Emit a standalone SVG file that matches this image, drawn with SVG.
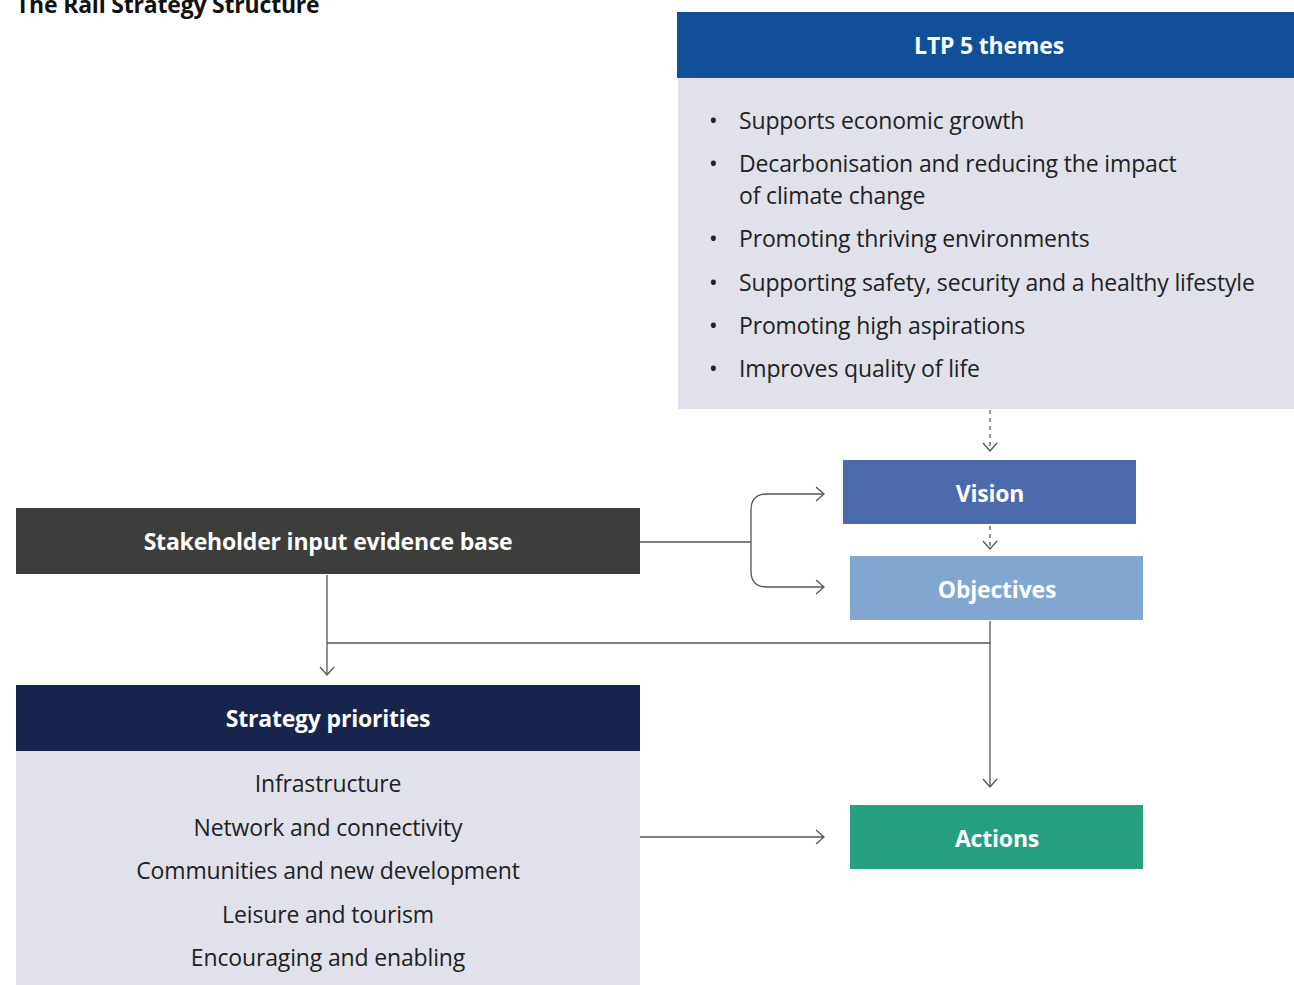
<svg xmlns="http://www.w3.org/2000/svg" width="1294" height="985" viewBox="0 0 1294 985">
<defs>
<marker id="chev" markerWidth="16" markerHeight="16" refX="12" refY="8" orient="auto" markerUnits="userSpaceOnUse">
<path d="M4,1 L12,8 L4,15" fill="none" stroke="#555" stroke-width="1.3"/>
</marker>
<style>
.hd{font-family:"Open Sans","Liberation Sans",sans-serif;font-weight:700;font-size:23px;letter-spacing:-0.2px;fill:#fff;text-anchor:middle;dominant-baseline:central}
.bd{font-family:"Open Sans","Liberation Sans",sans-serif;font-size:23px;letter-spacing:-0.15px;fill:#222}
.ctr{text-anchor:middle;dominant-baseline:central}
.ln{fill:none;stroke:#555;stroke-width:1.3}
.dash{stroke-dasharray:4,4}
</style>
</defs>
<rect width="1294" height="985" fill="#fff"/>
<text x="16" y="13" font-family="'Open Sans','Liberation Sans',sans-serif" font-weight="700" font-size="23" letter-spacing="-0.2" fill="#111">The Rail Strategy Structure</text>

<g id="ltp">
<rect x="677" y="12" width="617" height="66" fill="#114f98"/>
<text class="hd" x="989" y="45">LTP 5 themes</text>
<rect x="678" y="78" width="616" height="331" fill="#e0e1eb"/>
<g class="bd">
<text x="709" y="129">•</text><text x="739" y="129">Supports economic growth</text>
<text x="709" y="172">•</text><text x="739" y="172">Decarbonisation and reducing the impact</text>
<text x="739" y="204">of climate change</text>
<text x="709" y="247">•</text><text x="739" y="247">Promoting thriving environments</text>
<text x="709" y="291">•</text><text x="739" y="291">Supporting safety, security and a healthy lifestyle</text>
<text x="709" y="334">•</text><text x="739" y="334">Promoting high aspirations</text>
<text x="709" y="377">•</text><text x="739" y="377">Improves quality of life</text>
</g>
</g>

<g id="vision">
<rect x="843" y="460" width="293" height="64" fill="#4a6aab"/>
<text class="hd" x="990" y="493">Vision</text>
</g>

<g id="objectives">
<rect x="850" y="556" width="293" height="64" fill="#81a7d1"/>
<text class="hd" x="997" y="589">Objectives</text>
</g>

<g id="stakeholder">
<rect x="16" y="508" width="624" height="66" fill="#3d3d3b"/>
<text class="hd" x="328" y="541">Stakeholder input evidence base</text>
</g>

<g id="strategy">
<rect x="16" y="685" width="624" height="66" fill="#16244e"/>
<text class="hd" x="328" y="718">Strategy priorities</text>
<rect x="16" y="751" width="624" height="234" fill="#e0e1eb"/>
<g class="bd ctr">
<text x="328" y="783">Infrastructure</text>
<text x="328" y="827">Network and connectivity</text>
<text x="328" y="870">Communities and new development</text>
<text x="328" y="914">Leisure and tourism</text>
<text x="328" y="957">Encouraging and enabling</text>
</g>
</g>

<g id="actions">
<rect x="850" y="805" width="293" height="64" fill="#24a07f"/>
<text class="hd" x="997" y="838">Actions</text>
</g>

<g id="connectors">
<path class="ln dash" d="M990,410 V451" marker-end="url(#chev)"/>
<path class="ln dash" d="M990,526 V549" marker-end="url(#chev)"/>
<path class="ln" d="M640,542 H751"/>
<path class="ln" d="M751,542 V510 Q751,494 767,494 H824" marker-end="url(#chev)"/>
<path class="ln" d="M751,542 V571 Q751,587 767,587 H824" marker-end="url(#chev)"/>
<path class="ln" d="M327,575 V675" marker-end="url(#chev)"/>
<path class="ln" d="M327,643 H990"/>
<path class="ln" d="M990,621 V787" marker-end="url(#chev)"/>
<path class="ln" d="M640,837 H824" marker-end="url(#chev)"/>
</g>
</svg>
